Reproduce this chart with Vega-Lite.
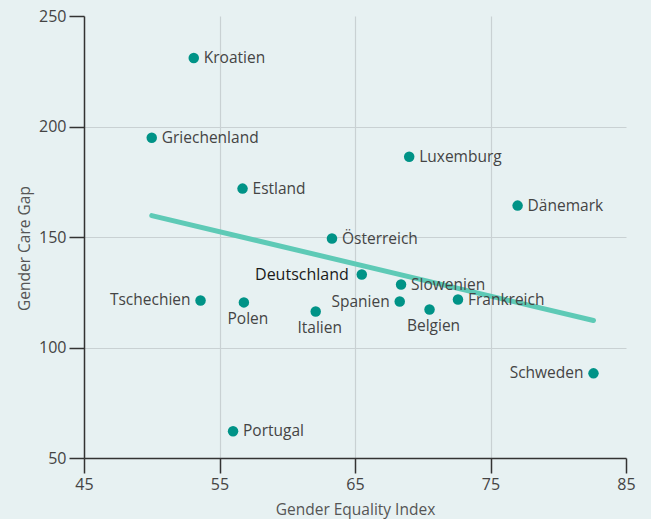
{
  "$schema": "https://vega.github.io/schema/vega-lite/v6.json",
  "width": 542,
  "height": 442,
  "autosize": {"type": "none"},
  "padding": {"left": 84, "top": 16, "right": 25, "bottom": 61},
  "background": "#e7f1f2",
  "config": {
    "view": {"stroke": null},
    "font": "Open Sans",
    "axis": {
      "labelFont": "Open Sans",
      "titleFont": "Open Sans",
      "labelFontSize": 16,
      "titleFontSize": 15.5,
      "labelColor": "#444444",
      "titleColor": "#555555",
      "titleFontWeight": "normal",
      "labelFlush": false,
      "domainColor": "#333333",
      "domainWidth": 1.5,
      "tickColor": "#333333",
      "tickWidth": 1.5,
      "tickSize": 15,
      "gridColor": "#c9d1d3",
      "gridWidth": 1.2
    }
  },
  "datasets": {
    "countries": [
      {"country": "Kroatien", "gei": 53.1, "gcg": 231.0},
      {"country": "Griechenland", "gei": 50.0, "gcg": 194.9},
      {"country": "Estland", "gei": 56.7, "gcg": 171.9},
      {"country": "Luxemburg", "gei": 69.0, "gcg": 186.3},
      {"country": "Dänemark", "gei": 77.0, "gcg": 164.2},
      {"country": "Österreich", "gei": 63.3, "gcg": 149.3},
      {"country": "Deutschland", "gei": 65.5, "gcg": 133.0},
      {"country": "Slowenien", "gei": 68.4, "gcg": 128.5},
      {"country": "Spanien", "gei": 68.3, "gcg": 120.8},
      {"country": "Frankreich", "gei": 72.6, "gcg": 121.7},
      {"country": "Belgien", "gei": 70.5, "gcg": 117.2},
      {"country": "Italien", "gei": 62.1, "gcg": 116.3},
      {"country": "Polen", "gei": 56.8, "gcg": 120.4},
      {"country": "Tschechien", "gei": 53.6, "gcg": 121.3},
      {"country": "Schweden", "gei": 82.6, "gcg": 88.3},
      {"country": "Portugal", "gei": 56.0, "gcg": 62.1}
    ],
    "trend": [
      {"gei": 50.0, "gcg": 159.7},
      {"gei": 82.6, "gcg": 112.2}
    ]
  },
  "encoding": {
    "x": {
      "field": "gei", "type": "quantitative",
      "scale": {"domain": [45, 85], "nice": false, "zero": false},
      "axis": {
        "title": "Gender Equality Index",
        "values": [45, 55, 65, 75, 85],
        "labelPadding": 3,
        "titlePadding": 10,
        "gridOpacity": {"condition": {"test": "datum.value === 45 || datum.value === 85", "value": 0}, "value": 1}
      }
    },
    "y": {
      "field": "gcg", "type": "quantitative",
      "scale": {"domain": [50, 250], "nice": false, "zero": false},
      "axis": {
        "title": "Gender Care Gap",
        "values": [50, 100, 150, 200, 250],
        "labelPadding": 3,
        "titlePadding": 6,
        "titleY": 232,
        "gridOpacity": {"condition": {"test": "datum.value === 50 || datum.value === 250", "value": 0}, "value": 1}
      }
    }
  },
  "layer": [
    {
      "data": {"name": "trend"},
      "mark": {"type": "line", "color": "#5ecab6", "strokeWidth": 5, "strokeCap": "round"},
      "encoding": {}
    },
    {
      "data": {"name": "countries"},
      "mark": {"type": "circle", "color": "#009387", "opacity": 1, "size": 110},
      "encoding": {}
    },
    {
      "data": {"name": "countries"},
      "transform": [{"filter": "indexof(['Tschechien','Spanien','Schweden','Deutschland','Polen','Italien','Belgien'], datum.country) < 0"}],
      "mark": {"type": "text", "align": "left", "baseline": "middle", "dx": 10, "fontSize": 15.5, "color": "#444444", "font": "Open Sans"},
      "encoding": {"text": {"field": "country"}}
    },
    {
      "data": {"name": "countries"},
      "transform": [{"filter": "indexof(['Tschechien','Spanien','Schweden'], datum.country) >= 0"}],
      "mark": {"type": "text", "align": "right", "baseline": "middle", "dx": -10, "fontSize": 15.5, "color": "#444444", "font": "Open Sans"},
      "encoding": {"text": {"field": "country"}}
    },
    {
      "data": {"name": "countries"},
      "transform": [{"filter": "datum.country === 'Deutschland'"}],
      "mark": {"type": "text", "align": "right", "baseline": "middle", "dx": -13, "fontSize": 16, "fontWeight": "normal", "color": "#1a1a1a", "font": "Open Sans"},
      "encoding": {"text": {"field": "country"}}
    },
    {
      "data": {"name": "countries"},
      "transform": [{"filter": "indexof(['Polen','Italien','Belgien'], datum.country) >= 0"}],
      "mark": {"type": "text", "align": "center", "baseline": "middle", "dx": 4, "dy": 17, "fontSize": 15.5, "color": "#444444", "font": "Open Sans"},
      "encoding": {"text": {"field": "country"}}
    }
  ]
}
